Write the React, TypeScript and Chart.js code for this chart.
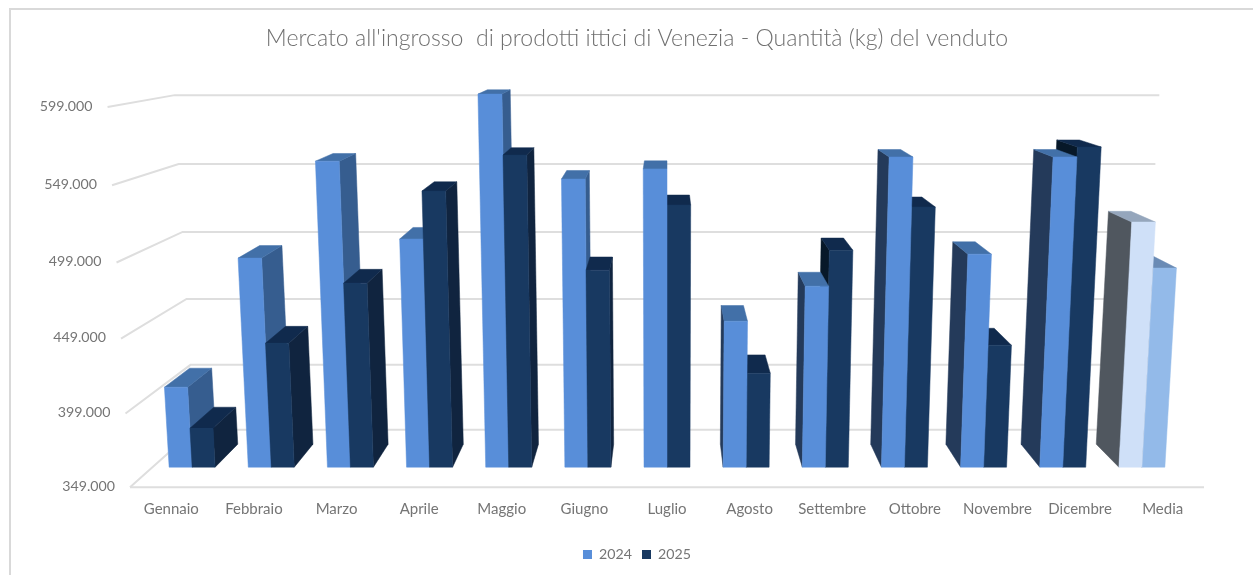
import React, { useEffect, useRef } from "react";
import { Chart, registerables } from "chart.js";

Chart.register(...registerables);

const categories = ["Gennaio", "Febbraio", "Marzo", "Aprile", "Maggio", "Giugno", "Luglio", "Agosto", "Settembre", "Ottobre", "Novembre", "Dicembre", "Media"];
const values2024 = [405500, 494700, 560200, 507700, 604800, 548200, 555000, 451400, 475500, 563000, 497400, 563000, 519200];
const values2025 = [376600, 436200, 477600, 540200, 564300, 486500, 530800, 415300, 500100, 529400, 434800, 569700, 487900];
const TITLE = "Mercato all'ingrosso  di prodotti ittici di Venezia - Quantità (kg) del venduto";
const AXIS_MIN = 349000;
const AXIS_MAX = 599000;
const AXIS_STEP = 50000;

const GRID = "#dedede";
const TEXT = "#757575";
const FONT = "Lato, 'Open Sans', sans-serif";

// Projection of the flat scale plane into the picture's perspective.
const VP_Y = 8;
const LEAN = 1.1e-4;
const BOW = 9.7e-5;
const BAR_FRONT = 0.958;
const BAR_BACK = 0.91;
const WALL = 0.88;

type Pal = { front: string; top: string; right: string; left: string };
const pal2024: Pal = { front: "#588ed9", top: "#4270a8", right: "#365d8f", left: "#243a5a" };
const pal2025: Pal = { front: "#183961", top: "#102a4d", right: "#10243f", left: "#071829" };
const palMedia2024: Pal = { front: "#cfe0f8", top: "#95a6bc", right: "#7f95b3", left: "#50575f" };
const palMedia2025: Pal = { front: "#93bae9", top: "#6a8bb5", right: "#6a8bb5", left: "#3e4a57" };

function makeProjector(chart: any) {
  const { left, right, top, bottom } = chart.chartArea;
  const cx = (left + right) / 2;
  return (x: number, y: number, f: number): [number, number] => {
    const x0 = cx + (x - cx) * (1 + (bottom - y) * LEAN);
    const y0 = y + BOW * (bottom - y) * (y - top);
    return [cx + (x0 - cx) * f, VP_Y + (y0 - VP_Y) * f];
  };
}

function poly(ctx: CanvasRenderingContext2D, pts: [number, number][], color: string) {
  ctx.beginPath();
  pts.forEach((p, i) => (i ? ctx.lineTo(p[0], p[1]) : ctx.moveTo(p[0], p[1])));
  ctx.closePath();
  ctx.fillStyle = color;
  ctx.fill();
  ctx.strokeStyle = color;
  ctx.lineWidth = 0.5;
  ctx.stroke();
}

function drawBar(ctx: CanvasRenderingContext2D, P: any, el: any, c: Pal, cx: number) {
  const l = el.x - el.width / 2;
  const r = el.x + el.width / 2;
  const t = el.y;
  const b = el.base;
  const fl = (y: number) => P(l, y, BAR_FRONT);
  const fr = (y: number) => P(r, y, BAR_FRONT);
  const bl = (y: number) => P(l, y, BAR_BACK);
  const br = (y: number) => P(r, y, BAR_BACK);
  if (r < cx) poly(ctx, [fr(t), br(t), br(b), fr(b)], c.right);
  if (l > cx) poly(ctx, [fl(t), bl(t), bl(b), fl(b)], c.left);
  poly(ctx, [fl(t), bl(t), br(t), fr(t)], c.top);
  poly(ctx, [fl(t), fr(t), fr(b), fl(b)], c.front);
}

const perspectivePlugin = {
  id: "perspective",
  beforeDraw(chart: any) {
    const ctx: CanvasRenderingContext2D = chart.ctx;
    const P = makeProjector(chart);
    const { left, right, bottom } = chart.chartArea;
    const yScale = chart.scales.y;

    // outer frame
    ctx.save();
    ctx.strokeStyle = "#d9d9d9";
    ctx.lineWidth = 2;
    ctx.beginPath();
    ctx.moveTo(10, chart.height);
    ctx.lineTo(10, 9);
    ctx.lineTo(chart.width, 9);
    ctx.stroke();

    // widen the y axis box so that its labels are not clipped, and lean them along the wall edge
    yScale.left = 0;
    const items = yScale.getLabelItems(chart.chartArea);
    if (!chart.$leaned) {
      items.forEach((it: any) => {
        const t = it.options.translation;
        const p = P(left, t[1], 1);
        t[0] += p[0] - left;
        t[1] = p[1] - 1;
      });
      chart.$leaned = true;
    }

    // gridlines: side wall + back wall
    ctx.strokeStyle = GRID;
    ctx.lineWidth = 2;
    yScale.ticks.forEach((tick: any) => {
      const y = yScale.getPixelForValue(tick.value);
      const a = P(left, y, 1);
      const b = P(left, y, WALL);
      const c = P(right, y, WALL);
      ctx.beginPath();
      ctx.moveTo(a[0], a[1]);
      ctx.lineTo(b[0], b[1]);
      ctx.lineTo(c[0], c[1]);
      ctx.stroke();
    });
    // floor front edge
    ctx.beginPath();
    ctx.moveTo(left, bottom);
    ctx.lineTo(right, bottom);
    ctx.stroke();
    ctx.restore();
  },
  beforeDatasetsDraw(chart: any) {
    const ctx: CanvasRenderingContext2D = chart.ctx;
    const P = makeProjector(chart);
    const { left, right } = chart.chartArea;
    const cx = (left + right) / 2;
    const a = chart.getDatasetMeta(0).data;
    const b = chart.getDatasetMeta(1).data;
    const n = categories.length;
    const order: number[] = [];
    let i = 0;
    let j = n - 1;
    while (i <= j) {
      if (a[j].x - cx > cx - a[i].x) order.push(j--);
      else order.push(i++);
    }
    ctx.save();
    order.forEach((k) => {
      const isMedia = k === n - 1;
      const pa = isMedia ? palMedia2024 : pal2024;
      const pb = isMedia ? palMedia2025 : pal2025;
      if (a[k].x + a[k].width < cx) {
        drawBar(ctx, P, a[k], pa, cx);
        drawBar(ctx, P, b[k], pb, cx);
      } else {
        drawBar(ctx, P, b[k], pb, cx);
        drawBar(ctx, P, a[k], pa, cx);
      }
    });
    ctx.restore();
    return false;
  },
};

export default function App() {
  const ref = useRef<HTMLCanvasElement>(null);
  useEffect(() => {
    document.body.style.margin = "0";
    document.body.style.background = "#fff";
    const chart = new Chart(ref.current!, {
      type: "bar",
      data: {
        labels: categories,
        datasets: [
          { label: "2024", data: values2024, base: AXIS_MIN, backgroundColor: pal2024.front, borderWidth: 0 },
          { label: "2025", data: values2025, base: AXIS_MIN, backgroundColor: pal2025.front, borderWidth: 0 },
        ],
      },
      plugins: [perspectivePlugin],
      options: {
        responsive: false,
        animation: false,
        layout: { padding: { left: 70, right: 49, top: 0, bottom: 3.5 } },
        datasets: { bar: { categoryPercentage: 0.581, barPercentage: 1, clip: false } } as any,
        plugins: {
          tooltip: { enabled: false },
          title: {
            display: true,
            text: TITLE,
            color: "#707070",
            font: { family: FONT, size: 23.1, weight: "300" },
            padding: { top: 25, bottom: 54.3 },
          },
          legend: {
            position: "bottom",
            labels: { boxWidth: 9, boxHeight: 9, padding: 10, color: TEXT, font: { family: FONT, size: 14.2 } },
          },
        },
        scales: {
          x: {
            grid: { display: false, drawTicks: false },
            border: { display: false },
            ticks: { color: TEXT, font: { family: FONT, size: 15 }, padding: 13, maxRotation: 0, autoSkip: false },
            afterFit: (s: any) => { s.height = 50; },
          },
          y: {
            min: AXIS_MIN,
            max: AXIS_MAX,
            grid: { display: false, drawTicks: false },
            border: { display: false },
            ticks: {
              stepSize: AXIS_STEP,
              color: TEXT,
              font: { family: FONT, size: 14.2 },
              padding: 15,
              callback: (v: any) => `${Number(v) / 1000}.000`,
            },
            afterFit: (s: any) => { s.width = 60; },
          },
        },
      } as any,
    });
    return () => chart.destroy();
  }, []);
  return <canvas ref={ref} width={1253} height={575} style={{ display: "block" }} />;
}
